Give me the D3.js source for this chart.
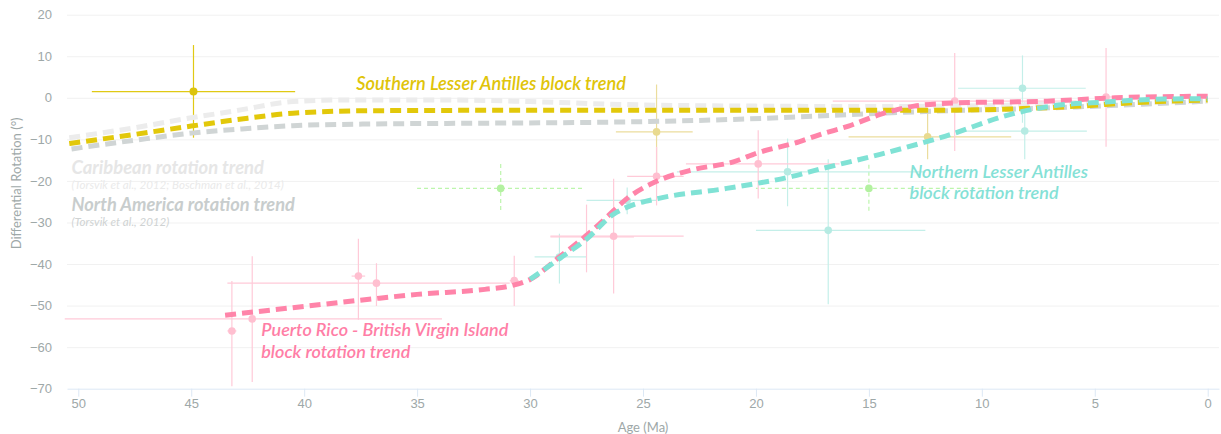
<!DOCTYPE html>
<html>
<head>
<meta charset="utf-8">
<script src="https://cdn.jsdelivr.net/npm/d3@7"></script>
<style>
  body { margin: 0; background: #fff; }
  svg { display: block; font-family: Lato, "Open Sans", sans-serif; }
</style>
</head>
<body>
<div id="chart"></div>
<script>
// axis ticks
const ageTicks = [50, 45, 40, 35, 30, 25, 20, 15, 10, 5, 0];
const rotationTicks = [-70, -60, -50, -40, -30, -20, -10, 0, 10, 20];

// trend curves: [age (Ma), rotation (deg)]
const caribbeanTrend = [[50.4, -9.6], [47.5, -7.2], [45, -4.8], [43, -3.1], [40.5, -0.9], [38, -0.5],
  [34, -0.5], [30, -0.9], [26, -1.6], [20, -2.0], [15, -2.1], [11, -2.0], [6, -1.4], [0, -0.8]];
const northAmericaTrend = [[50.3, -12.3], [47.5, -10.2], [45, -8.5], [42.5, -7.4], [40.5, -6.7], [37, -6.3],
  [32, -6.1], [27, -5.9], [21, -5.2], [17.3, -4.4], [14, -3.6], [12, -3.2], [8, -2.6], [4, -1.8], [0, -0.8]];
const southernTrend = [[50.4, -11.0], [47.5, -8.8], [45, -6.8], [42.5, -4.9], [40.5, -3.7], [37, -3.1],
  [30, -3.0], [20, -3.0], [12, -3.0], [8.2, -2.6], [5.7, -2.0], [3.3, -1.2], [0, -0.5]];
const puertoRicoTrend = [[43.5, -52.3], [40, -50.2], [37, -48.4], [35, -47.3], [32, -46.1], [30.9, -45.3],
  [30, -43.7], [28.7, -38.3], [27.2, -31.7], [26.6, -28.7], [25.7, -24.2], [24.4, -20.1], [22.8, -17.3],
  [21, -15.4], [19.9, -13.2], [18.1, -10.6], [17.2, -8.9], [15.9, -6.8], [14.5, -4.0], [13.0, -2.0],
  [11, -1.2], [7.1, -0.8], [4.1, 0.0], [0, 0.4]];
const northernTrend = [[30.0, -43.7], [28.7, -38.7], [27.5, -34.0], [26.3, -28.0], [25.7, -26.3], [24.3, -24.2],
  [21.3, -21.8], [18.4, -18.9], [17.2, -17.2], [14.5, -13.6], [11.6, -9.2], [8.6, -3.8], [6.9, -2.0],
  [4.5, -1.0], [2, -0.3], [0, -0.2]];

// measurements: [age, rotation, ageMin, ageMax, rotMin, rotMax]
const southernPoints = [[44.9, 1.5, 40.4, 49.4, -9.6, 12.7]];
const southernPointsFaded = [[24.4, -8.2, 22.8, 26.2, -19.0, 3.2], [12.4, -9.4, 8.7, 15.9, -14.8, -2.5]];
const greenPoints = [[31.3, -21.8, 27.7, 35.0, -27.0, -15.6], [15.0, -21.8, 10.0, 20.0, -27.2, -15.6]];
const northernPoints = [
  [28.7, -38.3, 27.5, 29.8, -44.7, -32.7],
  [25.7, -24.7, 24.4, 27.5, -28.0, -21.6],
  [18.6, -17.8, 12.5, 23.5, -26.1, -9.8],
  [16.8, -31.9, 12.5, 20.0, -49.7, -14.8],
  [8.2, 2.3, 5.4, 11.05, -6.0, 10.2],
  [8.1, -8.0, 5.35, 11.0, -14.8, -1.0]
];
const puertoRicoPoints = [
  [43.2, -56.1, 43.0, 43.4, -69.4, -44.1],
  [42.3, -53.2, 33.9, 50.6, -68.4, -38.1],
  [37.6, -42.9, 37.3, 37.9, -53.4, -33.9],
  [36.8, -44.6, 30.9, 43.4, -50.1, -39.8],
  [30.7, -44.0, 30.5, 30.9, -50.1, -38.0],
  [27.5, -33.5, 25.4, 29.1, -42.0, -25.7],
  [26.3, -33.3, 23.2, 29.1, -47.1, -19.5],
  [24.4, -18.9, 23.2, 25.7, -25.9, -11.8],
  [19.9, -15.9, 16.3, 23.1, -24.2, -7.8],
  [11.2, -0.8, 5.8, 16.6, -12.8, 10.8],
  [4.5, 0.2, 4.0, 5.0, -11.8, 12.0]
];

const width = 1221, height = 434;
const margin = {top: 14.7, right: 2, bottom: 45.3, left: 67};

let svg = d3.select('#chart').append('svg')
            .attr('width', width)
            .attr('height', height);

let xScale = d3.scaleLinear()
              .domain([50.5, -0.5])
              .range([margin.left, width - margin.right]);
let yScale = d3.scaleLinear()
              .domain([-70, 20])
              .range([height - margin.bottom, margin.top]);

// grid lines
svg.append('g')
    .attr('transform', 'translate(' + margin.left + ',0)')
    .call(d3.axisLeft(yScale).tickValues(rotationTicks.slice(1))
      .tickSize(-(width - margin.left - margin.right)).tickFormat(''))
    .call(g => g.select('.domain').remove())
    .call(g => g.selectAll('line').attr('stroke', '#f1f1f1'));

// y axis labels
svg.append('g')
    .attr('transform', 'translate(' + margin.left + ',0)')
    .call(d3.axisLeft(yScale).tickValues(rotationTicks).tickSize(0).tickPadding(15))
    .call(g => g.select('.domain').remove())
    .call(g => g.selectAll('text').attr('fill', '#9ea8a8').style('font-size', '13px'));

// x axis
svg.append('g')
    .attr('transform', 'translate(0,' + (height - margin.bottom) + ')')
    .call(d3.axisBottom(xScale).tickValues(ageTicks).tickSize(8).tickPadding(2).tickSizeOuter(0))
    .call(g => g.select('.domain').attr('stroke', '#dce8f5'))
    .call(g => g.selectAll('line').attr('stroke', '#dce8f5'))
    .call(g => g.selectAll('text').attr('fill', '#9ea8a8').style('font-size', '13px'));

// axis titles
svg.append('text')
    .attr('x', (margin.left + width - margin.right) / 2)
    .attr('y', 432)
    .attr('text-anchor', 'middle')
    .attr('fill', '#9ea8a8')
    .style('font-size', '13px')
    .text('Age (Ma)');

svg.append('text')
    .attr('transform', 'translate(21,' + yScale(-20.6) + ') rotate(-90)')
    .attr('text-anchor', 'middle')
    .attr('fill', '#9ea8a8')
    .style('font-size', '13px')
    .text('Differential Rotation (°)');

// error bars + dots
function drawPoints(data, barColor, dotColor, radius, dash) {
  let g = svg.append('g');
  data.forEach((d) => {
    g.append('line')
        .attr('x1', xScale(d[2])).attr('x2', xScale(d[3]))
        .attr('y1', yScale(d[1])).attr('y2', yScale(d[1]))
        .attr('stroke', barColor).attr('stroke-width', 1.2)
        .attr('stroke-dasharray', dash);
    g.append('line')
        .attr('x1', xScale(d[0])).attr('x2', xScale(d[0]))
        .attr('y1', yScale(d[4])).attr('y2', yScale(d[5]))
        .attr('stroke', barColor).attr('stroke-width', 1.2)
        .attr('stroke-dasharray', dash);
  });
  g.selectAll('circle')
      .data(data)
    .enter().append('circle')
      .attr('cx', (d) => xScale(d[0]))
      .attr('cy', (d) => yScale(d[1]))
      .attr('r', radius)
      .attr('fill', dotColor);
}

drawPoints(greenPoints, '#bdf5ad', '#b3f1a0', 3.8, '4,3');
drawPoints(southernPointsFaded, '#ebdd9d', '#e9da8f', 3.8, null);
drawPoints(northernPoints, '#c4efe9', '#b6ebe3', 3.8, null);
drawPoints(puertoRicoPoints, '#ffcad8', '#ffbfd0', 3.8, null);
drawPoints(southernPoints, '#e0c914', '#dcc40c', 4, null);

// trend lines
let line = d3.line()
    .x((d) => xScale(d[0]))
    .y((d) => yScale(d[1]))
    .curve(d3.curveMonotoneX);

function drawTrend(data, color) {
  svg.append('path')
      .datum(data)
      .attr('d', line)
      .attr('fill', 'none')
      .attr('stroke', color)
      .attr('stroke-width', 5)
      .attr('stroke-dasharray', '11,6');
}

drawTrend(caribbeanTrend, '#ececec');
drawTrend(northAmericaTrend, '#d0d5d5');
drawTrend(southernTrend, '#e2c80a');
drawTrend(puertoRicoTrend, '#ff84a9');
drawTrend(northernTrend, '#80e2d5');

// annotations
function label(text, age, rot, color, size, weight) {
  svg.append('text')
      .attr('x', xScale(age))
      .attr('y', yScale(rot))
      .attr('fill', color)
      .style('font-size', size + 'px')
      .style('font-style', 'italic')
      .style('font-weight', weight)
      .text(text);
}

label('Southern Lesser Antilles block trend', 37.7, 2.0, '#e0c40a', 18.2, 600);
label('Caribbean rotation trend', 50.3, -18.3, '#e6e6e6', 18.4, 700);
label('(Torsvik et al., 2012; Boschman et al., 2014)', 50.3, -21.9, '#eaeaea', 11.6, 400);
label('North America rotation trend', 50.3, -27.3, '#c8cdcd', 18.2, 700);
label('(Torsvik et al., 2012)', 50.3, -30.9, '#cfd3d3', 11.6, 400);
label('Puerto Rico - British Virgin Island', 41.9, -57.4, '#ff7ea6', 18, 600);
label('block rotation trend', 41.9, -62.6, '#ff7ea6', 18, 600);
label('Northern Lesser Antilles', 13.2, -19.2, '#84e1d6', 18, 600);
label('block rotation trend', 13.2, -24.4, '#84e1d6', 18, 600);
</script>
</body>
</html>
